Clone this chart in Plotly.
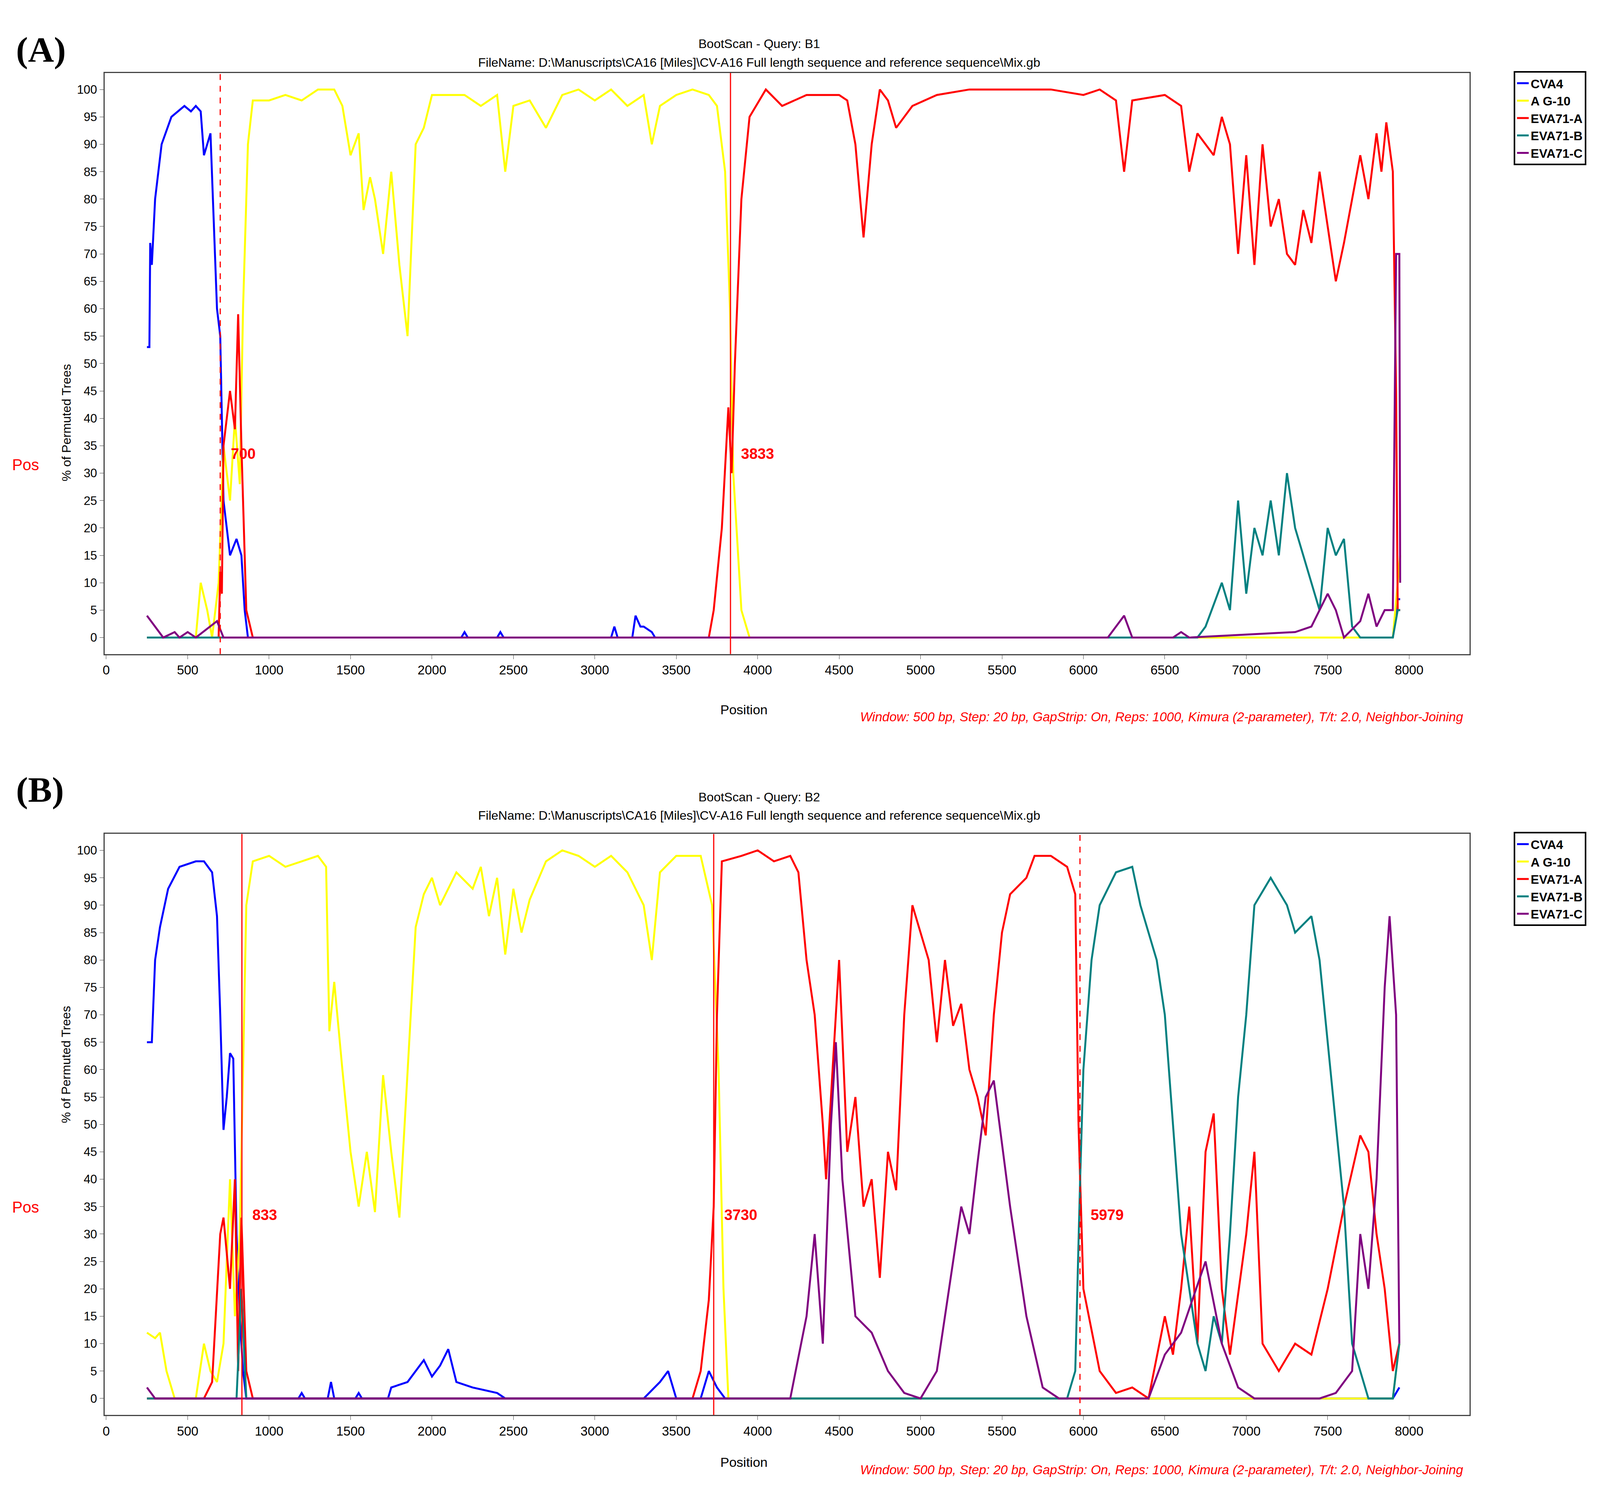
import plotly.graph_objects as go

# ---------------- Panel A data ----------------
A_cva4_x = [250,265,270,280,300,340,400,480,520,550,580,600,640,680,700,720,760,800,830,850,870,2180,2200,2220,2400,2420,2440,3100,3120,3140,3230,3250,3280,3300,3350,3370,7900,7930,7945]
A_cva4_y = [53,53,72,68,80,90,95,97,96,97,96,88,92,60,55,25,15,18,15,5,0,0,1,0,0,1,0,0,2,0,0,4,2,2,1,0,0,7,7]
A_ag10_x = [250,550,580,620,650,690,720,760,790,820,840,870,900,1000,1100,1200,1300,1400,1450,1500,1550,1580,1620,1650,1700,1750,1800,1850,1900,1950,2000,2200,2300,2400,2450,2500,2600,2700,2800,2900,3000,3100,3200,3300,3350,3400,3500,3600,3700,3750,3800,3830,3850,3900,3950,7900,7945]
A_ag10_y = [0,0,10,5,0,10,35,25,40,28,60,90,98,98,99,98,100,100,97,88,92,78,84,80,70,85,68,55,90,93,99,99,97,99,85,97,98,93,99,100,98,100,97,99,90,97,99,100,99,97,85,60,30,5,0,0,15]
A_eva71a_x = [250,690,700,710,720,760,790,810,830,860,900,3700,3730,3780,3820,3840,3860,3900,3950,4050,4150,4300,4500,4550,4600,4650,4700,4750,4800,4850,4950,5100,5300,5800,6000,6100,6200,6250,6300,6500,6600,6650,6700,6800,6850,6900,6950,7000,7050,7100,7150,7200,7250,7300,7350,7400,7450,7550,7600,7650,7700,7750,7800,7830,7860,7900,7920,7930,7945]
A_eva71a_y = [0,0,12,8,35,45,38,59,35,5,0,0,5,20,42,30,50,80,95,100,97,99,99,98,90,73,90,100,98,93,97,99,100,100,99,100,98,85,98,99,97,85,92,88,95,90,70,88,68,90,75,80,70,68,78,72,85,65,72,80,88,80,92,85,94,85,45,5,5]
A_eva71b_x = [250,6700,6750,6850,6900,6950,7000,7050,7100,7150,7200,7250,7300,7400,7450,7500,7550,7600,7650,7700,7900,7930,7945]
A_eva71b_y = [0,0,2,10,5,25,8,20,15,25,15,30,20,10,5,20,15,18,2,0,0,5,5]
A_eva71c_x = [250,300,350,420,450,500,550,680,720,6150,6200,6250,6300,6550,6600,6650,7300,7400,7500,7550,7600,7700,7750,7800,7850,7900,7920,7940,7945]
A_eva71c_y = [4,2,0,1,0,1,0,3,0,0,2,4,0,0,1,0,1,2,8,5,0,3,8,2,5,5,70,70,10]

# ---------------- Panel B data ----------------
B_cva4_x = [250,280,300,330,380,450,550,600,650,680,700,720,740,760,780,800,820,840,860,1180,1200,1220,1360,1380,1400,1530,1550,1570,1730,1750,1850,1950,2000,2050,2100,2150,2250,2400,2450,3300,3400,3450,3500,3650,3700,3750,3800,7900,7940]
B_cva4_y = [65,65,80,86,93,97,98,98,96,88,70,49,55,63,62,30,15,5,0,0,1,0,0,3,0,0,1,0,0,2,3,7,4,6,9,3,2,1,0,0,3,5,0,0,5,2,0,0,2]
B_ag10_x = [250,300,330,370,420,550,600,640,680,720,760,790,820,840,860,900,1000,1100,1200,1300,1350,1370,1400,1450,1500,1550,1600,1650,1700,1750,1800,1850,1900,1950,2000,2050,2150,2250,2300,2350,2400,2450,2500,2550,2600,2700,2800,2900,3000,3100,3200,3300,3350,3400,3500,3650,3720,3760,3790,3820,7900,7940]
B_ag10_y = [12,11,12,5,0,0,10,5,3,10,40,15,30,60,90,98,99,97,98,99,97,67,76,60,45,35,45,34,59,45,33,60,86,92,95,90,96,93,97,88,95,81,93,85,91,98,100,99,97,99,96,90,80,96,99,99,90,60,20,0,0,10]
B_eva71a_x = [250,600,650,700,720,760,790,810,830,860,900,3600,3650,3700,3730,3750,3780,3900,4000,4100,4200,4250,4300,4350,4400,4420,4450,4500,4550,4600,4650,4700,4750,4800,4850,4900,4950,5000,5050,5100,5150,5200,5250,5300,5350,5400,5450,5500,5550,5650,5700,5800,5900,5950,5970,6000,6100,6200,6300,6400,6500,6550,6600,6650,6700,6750,6800,6850,6900,7000,7050,7100,7200,7300,7400,7500,7600,7700,7750,7800,7850,7900,7940]
B_eva71a_y = [0,0,3,30,33,20,40,5,33,5,0,0,5,18,35,70,98,99,100,98,99,96,80,70,50,40,55,80,45,55,35,40,22,45,38,70,90,85,80,65,80,68,72,60,55,48,70,85,92,95,99,99,97,92,50,20,5,1,2,0,15,8,20,35,10,45,52,20,8,30,45,10,5,10,8,20,35,48,45,30,20,5,10]
B_eva71b_x = [250,800,830,860,5900,5950,5980,6000,6050,6100,6200,6300,6350,6450,6500,6550,6600,6650,6700,6750,6800,6850,6900,6950,7000,7050,7150,7250,7300,7400,7450,7550,7600,7650,7700,7750,7900,7940]
B_eva71b_y = [0,0,20,0,0,5,40,60,80,90,96,97,90,80,70,50,30,20,10,5,15,10,30,55,70,90,95,90,85,88,80,50,35,10,5,0,0,10]
B_eva71c_x = [250,300,4200,4300,4350,4400,4450,4480,4520,4600,4700,4800,4900,5000,5100,5200,5250,5300,5350,5400,5450,5550,5650,5750,5850,6400,6500,6600,6750,6850,6950,7050,7450,7550,7650,7700,7750,7800,7850,7880,7920,7940]
B_eva71c_y = [2,0,0,15,30,10,50,65,40,15,12,5,1,0,5,25,35,30,43,55,58,35,15,2,0,0,8,12,25,10,2,0,0,1,5,30,20,40,75,88,70,10]

names = ["CVA4", "A G-10", "EVA71-A", "EVA71-B", "EVA71-C"]
colors = ["#0000FF", "#FFFF00", "#FF0000", "#008080", "#800080"]
A_series = [(A_cva4_x, A_cva4_y), (A_ag10_x, A_ag10_y), (A_eva71a_x, A_eva71a_y), (A_eva71b_x, A_eva71b_y), (A_eva71c_x, A_eva71c_y)]
B_series = [(B_cva4_x, B_cva4_y), (B_ag10_x, B_ag10_y), (B_eva71a_x, B_eva71a_y), (B_eva71b_x, B_eva71b_y), (B_eva71c_x, B_eva71c_y)]
A_breaks = [(700, "longdash"), (3833, "solid")]
B_breaks = [(833, "solid"), (3730, "solid"), (5979, "longdash")]

W, H = 1568, 1452
def px(x): return x / W
def py(y): return 1 - y / H

fig = go.Figure()
FONT = "Liberation Sans"
for (sx, sy), n, c in zip(A_series, names, colors):
    fig.add_trace(go.Scatter(x=sx, y=sy, mode="lines", name="<b>%s</b>" % n, line=dict(color=c, width=5),
                             xaxis="x", yaxis="y", legend="legend"))
for (sx, sy), n, c in zip(B_series, names, colors):
    fig.add_trace(go.Scatter(x=sx, y=sy, mode="lines", name="<b>%s</b>" % n, line=dict(color=c, width=5),
                             xaxis="x2", yaxis="y2", legend="legend2"))

ax = dict(range=[-10, 8370], tickvals=list(range(0, 8001, 500)), showline=True, mirror=True,
          linecolor="#444", linewidth=3, ticks="outside", ticklen=10, tickcolor="#444",
          showgrid=False, zeroline=False, tickfont=dict(size=33, family=FONT, color="black"))
ay = dict(range=[-3, 103], tickvals=list(range(0, 101, 5)), showline=True, mirror=True,
          linecolor="#444", linewidth=3, ticks="outside", ticklen=10, tickcolor="#444",
          showgrid=False, zeroline=False, tickfont=dict(size=31, family=FONT, color="black"))
leg = dict(font=dict(size=32, family=FONT, color="black"), bordercolor="black", borderwidth=4,
           bgcolor="white", xanchor="left", yanchor="top", tracegroupgap=0, itemwidth=30)

fig.update_layout(
    width=4124, height=3823, paper_bgcolor="white", plot_bgcolor="white",
    margin=dict(l=0, r=0, t=0, b=0),
    xaxis=dict(ax, domain=[px(97), px(1427)], anchor="y"),
    yaxis=dict(ay, domain=[py(633), py(68)], anchor="x"),
    xaxis2=dict(ax, domain=[px(97), px(1427)], anchor="y2"),
    yaxis2=dict(ay, domain=[py(1373), py(808)], anchor="x2"),
    legend=dict(leg, x=px(1470), y=py(66)),
    legend2=dict(leg, x=px(1470), y=py(806)),
)

shapes, ann = [], []
for (brks, xr, yr) in [(A_breaks, "x", "y"), (B_breaks, "x2", "y2")]:
    for b, d in brks:
        shapes.append(dict(type="line", xref=xr, yref=yr + " domain", x0=b, x1=b, y0=0, y1=1,
                           line=dict(color="#FF0000", width=3, dash=d)))
        ann.append(dict(xref=xr, yref=yr, x=b + 60, y=33.5, text="<b>%d</b>" % b, showarrow=False,
                        xanchor="left", font=dict(size=38, color="#FF0000", family=FONT)))

for off, lab, q in [(0, "(A)", "B1"), (740, "(B)", "B2")]:
    ann += [
        dict(xref="paper", yref="paper", x=px(10), y=py(25 + off), text="<b>%s</b>" % lab, showarrow=False,
             xanchor="left", font=dict(size=92, family="Liberation Serif", color="black")),
        dict(xref="paper", yref="paper", x=px(735), y=py(32 + off), text="BootScan - Query: " + q, showarrow=False,
             font=dict(size=32, family=FONT, color="black")),
        dict(xref="paper", yref="paper", x=px(735), y=py(50 + off),
             text="FileName: D:\\Manuscripts\\CA16 [Miles]\\CV-A16 Full length sequence and reference sequence\\Mix.gb",
             showarrow=False, font=dict(size=32, family=FONT, color="black")),
        dict(xref="paper", yref="paper", x=px(52), y=py(350 + off), text="% of Permuted Trees", textangle=-90,
             showarrow=False, font=dict(size=32, family=FONT, color="black")),
        dict(xref="paper", yref="paper", x=px(6), y=py(440 + off), xanchor="left", text="Pos", showarrow=False,
             font=dict(size=40, family=FONT, color="#FF0000")),
        dict(xref="paper", yref="paper", x=px(720), y=py(687 + off), text="Position", showarrow=False,
             font=dict(size=34, family=FONT, color="black")),
        dict(xref="paper", yref="paper", x=px(1422), y=py(694 + off), xanchor="right",
             text="<i>Window: 500 bp, Step: 20 bp, GapStrip: On, Reps: 1000, Kimura (2-parameter), T/t: 2.0, Neighbor-Joining</i>",
             showarrow=False, font=dict(size=33, family=FONT, color="#FF0000")),
    ]
fig.update_layout(shapes=shapes, annotations=ann)
fig.write_html("out.html")
